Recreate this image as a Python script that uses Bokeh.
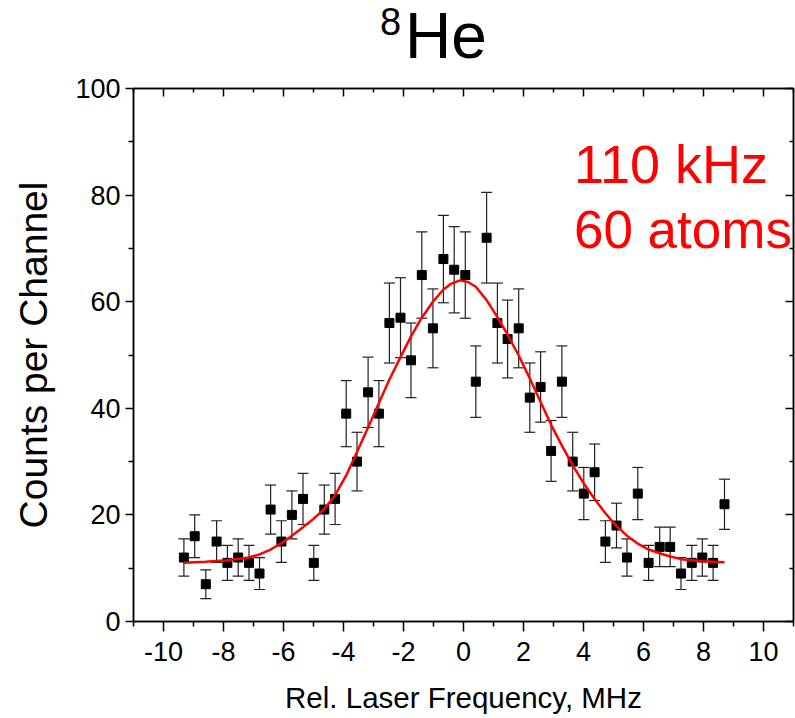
from bokeh.plotting import figure
from bokeh.models import (ColumnDataSource, Whisker, TeeHead, FixedTicker, LinearAxis,
                          Range1d, Label, Div, CustomJSTickFormatter)
from bokeh.layouts import column
from bokeh.embed import file_html
from bokeh.resources import INLINE

# ---- data ----
freq = [-9.32, -8.96, -8.59, -8.23, -7.87, -7.51, -7.15, -6.80, -6.43, -6.07,
        -5.72, -5.35, -4.99, -4.64, -4.28, -3.91, -3.55, -3.18, -2.82, -2.47,
        -2.10, -1.75, -1.39, -1.02, -0.67, -0.31, 0.06, 0.41, 0.77, 1.13,
        1.47, 1.84, 2.21, 2.57, 2.92, 3.28, 3.64, 4.01, 4.37, 4.73,
        5.10, 5.45, 5.81, 6.17, 6.54, 6.89, 7.25, 7.61, 7.96, 8.32, 8.70]
counts = [12, 16, 7, 15, 11, 12, 11, 9, 21, 15,
          20, 23, 11, 21, 23, 39, 30, 43, 39, 56,
          57, 49, 65, 55, 68, 66, 65, 45, 72, 56,
          53, 55, 42, 44, 32, 45, 30, 24, 28, 15,
          18, 12, 24, 11, 14, 14, 9, 11, 12, 11, 22]
errors = [3.5, 4.0, 2.7, 3.9, 3.3, 3.5, 3.3, 3.0, 4.6, 3.9,
          4.5, 4.8, 3.3, 4.6, 4.8, 6.2, 5.5, 6.6, 6.2, 7.5,
          7.5, 7.0, 8.1, 7.4, 8.2, 8.1, 8.1, 6.7, 8.5, 7.5,
          7.3, 7.4, 6.5, 6.6, 5.7, 6.7, 5.5, 4.9, 5.3, 3.9,
          4.2, 3.5, 4.9, 3.3, 3.7, 3.7, 3.0, 3.3, 3.5, 3.3, 4.7]

fit_x = [-9.32, -8.60, -7.87, -7.15, -6.80, -6.43, -6.07, -5.72, -5.35, -4.99,
         -4.64, -4.28, -3.91, -3.55, -3.18, -2.82, -2.47, -2.10, -1.75, -1.39,
         -1.02, -0.67, -0.40, -0.12, 0.15, 0.41, 0.77, 1.13, 1.47, 1.84,
         2.21, 2.57, 2.92, 3.28, 3.64, 4.01, 4.37, 4.73, 5.10, 5.45,
         5.81, 6.17, 6.54, 6.89, 7.25, 7.61, 7.96, 8.32, 8.70]
fit_y = [11.0, 11.2, 11.5, 12.0, 12.6, 13.5, 14.7, 16.1, 17.7, 19.3,
         21.1, 23.7, 27.4, 31.8, 36.4, 41.0, 45.4, 49.6, 53.5, 57.0,
         60.0, 62.3, 63.4, 64.0, 63.7, 62.8, 60.3, 57.1, 53.8, 49.9,
         45.6, 41.2, 36.9, 33.0, 29.3, 25.9, 23.0, 20.3, 17.9, 16.1,
         14.6, 13.5, 12.8, 12.2, 11.7, 11.5, 11.3, 11.2, 11.1]

x_major = [-10, -8, -6, -4, -2, 0, 2, 4, 6, 8, 10]
x_minor = [-11, -9, -7, -5, -3, -1, 1, 3, 5, 7, 9, 11]
y_major = [0, 20, 40, 60, 80, 100]
y_minor = [10, 30, 50, 70, 90]

title_mass = "8"
title_element = "He"

FONT = "Liberation Sans"

lower = [c - e for c, e in zip(counts, errors)]
upper = [c + e for c, e in zip(counts, errors)]
src = ColumnDataSource(dict(x=freq, y=counts, lower=lower, upper=upper))

p = figure(width=795, height=648, output_backend="svg", toolbar_location=None,
           x_range=Range1d(-11, 11), y_range=Range1d(0, 100),
           min_border_left=133, min_border_right=2, min_border_top=18,
           min_border_bottom=97, background_fill_color="white",
           border_fill_color="white", margin=(0, 0, 0, 0))
p.grid.visible = False
p.outline_line_color = "black"
p.outline_line_width = 1.5

# bottom axis
xa = p.xaxis[0]
xa.ticker = FixedTicker(ticks=x_major, minor_ticks=x_minor)
xa.axis_label = "Rel. Laser Frequency, MHz"
xa.major_label_overrides = {v: str(v) for v in x_major}
# left axis
ya = p.yaxis[0]
ya.ticker = FixedTicker(ticks=y_major, minor_ticks=y_minor)
ya.axis_label = "Counts per Channel"

for ax in (xa, ya):
    ax.axis_line_color = "black"
    ax.axis_line_width = 1.5
    ax.major_tick_line_color = "black"
    ax.minor_tick_line_color = "black"
    ax.major_tick_line_width = 1.5
    ax.minor_tick_line_width = 1.5
    ax.major_tick_in = 0
    ax.minor_tick_in = 0
    ax.major_label_text_font = FONT
    ax.axis_label_text_font = FONT
    ax.major_label_text_color = "black"
    ax.axis_label_text_color = "black"
    ax.axis_label_text_font_style = "normal"

xa.major_tick_out = 10
xa.minor_tick_out = 5
xa.major_label_text_font_size = "27px"
xa.axis_label_text_font_size = "29.5px"
xa.major_label_standoff = 10
xa.axis_label_standoff = 17

ya.major_tick_out = 8
ya.minor_tick_out = 5
ya.major_label_text_font_size = "27px"
ya.axis_label_text_font_size = "39px"
ya.major_label_standoff = 5
ya.axis_label_standoff = 17

# mirrored top / right axes with inward ticks and no labels
blank = CustomJSTickFormatter(code="return ''")
top = LinearAxis(ticker=FixedTicker(ticks=x_major, minor_ticks=x_minor), formatter=blank)
right = LinearAxis(ticker=FixedTicker(ticks=y_major, minor_ticks=y_minor), formatter=blank)
for ax in (top, right):
    ax.major_label_text_font_size = "1px"
    ax.major_label_standoff = 0
    ax.axis_line_color = "black"
    ax.axis_line_width = 1.5
    ax.major_tick_line_color = "black"
    ax.minor_tick_line_color = "black"
    ax.major_tick_line_width = 1.5
    ax.minor_tick_line_width = 1.5
    ax.major_tick_out = 0
    ax.minor_tick_out = 0
    ax.major_tick_in = 8
    ax.minor_tick_in = 4
p.add_layout(top, "above")
p.add_layout(right, "right")

# error bars
wh = Whisker(source=src, base="x", upper="upper", lower="lower",
             line_color="#222222", line_width=1.2,
             upper_head=TeeHead(size=11, line_color="#222222", line_width=1.2),
             lower_head=TeeHead(size=11, line_color="#222222", line_width=1.2))
p.add_layout(wh)

# data points
p.scatter("x", "y", source=src, marker="square", size=9, color="black")

# fit
p.line(fit_x, fit_y, line_color="red", line_width=2.5)

# red annotation text
p.add_layout(Label(x=3.68, y=85.9, text="110 kHz", text_color="red",
                   text_font=FONT, text_font_size="54px",
                   text_baseline="alphabetic"))
p.add_layout(Label(x=3.68, y=73.5, text="60 atoms", text_color="red",
                   text_font=FONT, text_font_size="53px",
                   text_baseline="alphabetic"))

# title: superscript mass number + element symbol
title_html = (
    '<div style="position:relative;width:795px;height:70px;'
    'font-family:\'Liberation Sans\';color:black;">'
    '<span style="position:absolute;left:380px;top:3px;font-size:38px;'
    'line-height:1;white-space:nowrap;">' + title_mass + '</span>'
    '<span style="position:absolute;left:405px;top:4px;font-size:64px;'
    'line-height:1;white-space:nowrap;">' + title_element + '</span>'
    '</div>'
)
title_div = Div(text=title_html, width=795, height=70, margin=(0, 0, 0, 0))

layout = column(title_div, p, spacing=0, margin=(0, 0, 0, 0))

open("out.html", "w").write(file_html(layout, INLINE))
